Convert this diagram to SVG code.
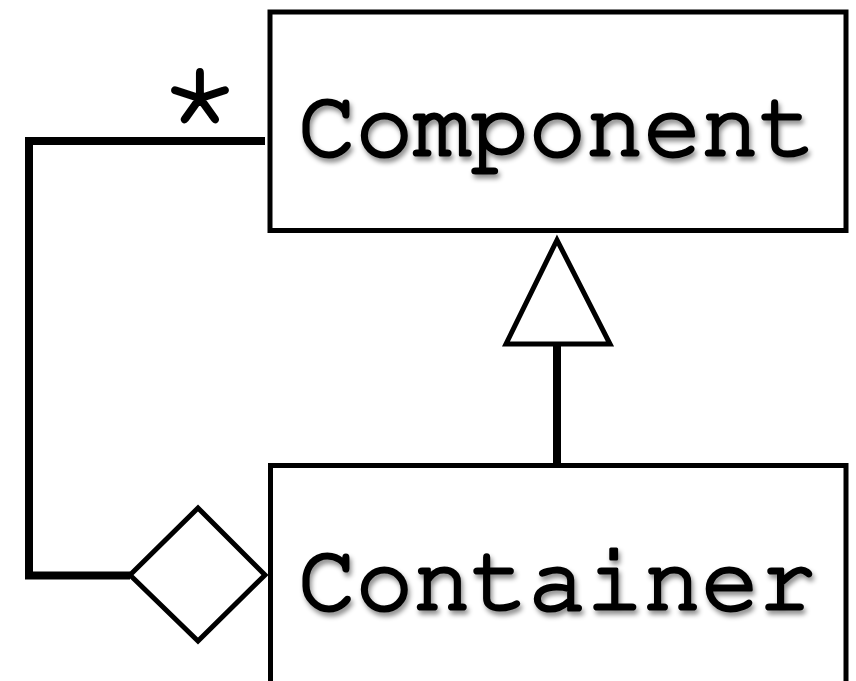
<svg xmlns="http://www.w3.org/2000/svg" width="856" height="681" viewBox="0 0 856 681">
<defs>
<style>
.box{fill:#fff;stroke:#000;stroke-width:5}
.mono{font-family:"Nimbus Mono PS","FreeMono","Courier","Liberation Mono","Courier New",monospace;fill:#000;stroke:#000;stroke-linejoin:round}
.lbl{font-size:96px;stroke-width:3.2}
.ln{fill:none;stroke:#000;stroke-width:8}
.head{fill:#fff;stroke:#000;stroke-width:5;stroke-linejoin:miter}
</style>
<filter id="sh" x="-10%" y="-20%" width="120%" height="150%">
<feDropShadow dx="2" dy="4" stdDeviation="2.5" flood-color="#000" flood-opacity="0.45"/>
</filter>
</defs>
<rect width="856" height="681" fill="#fff"/>
<g id="connectors">
<polyline class="ln" points="265,141 29,141 29,575.5 130,575.5"/>
<line class="ln" x1="557" y1="343" x2="557" y2="465"/>
<polygon class="head" points="557,240 506,344 610,344"/>
<polygon class="head" points="130,575 198,508 265,575 198,641"/>
<text class="mono" x="200" y="160" text-anchor="middle" style="font-size:150px;stroke-width:1.8">*</text>
</g>
<g id="component">
<rect class="box" x="270" y="12" width="576" height="218.5"/>
<text class="mono lbl" x="298" y="155" filter="url(#sh)">Component</text>
</g>
<g id="container">
<rect class="box" x="270.5" y="465.5" width="575.5" height="240"/>
<text class="mono lbl" x="298" y="609" filter="url(#sh)">Container</text>
</g>
</svg>
